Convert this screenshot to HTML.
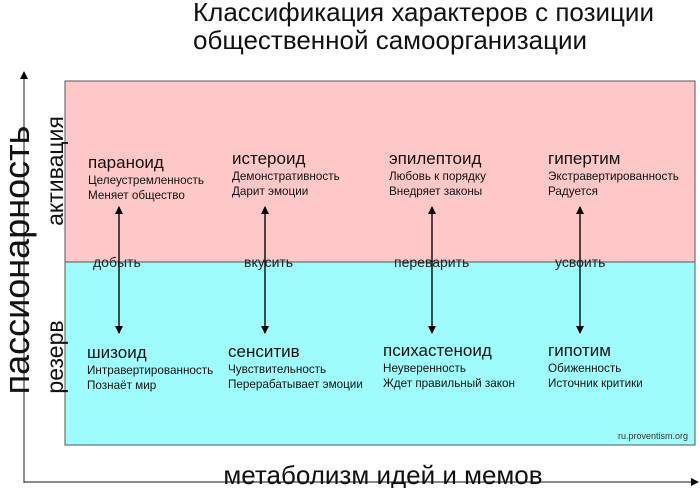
<!DOCTYPE html>
<html><head><meta charset="utf-8"><style>
html,body{margin:0;padding:0;background:#fff;}
svg{display:block;font-family:"Liberation Sans","DejaVu Sans",sans-serif;}
</style></head><body>
<svg width="700" height="488" viewBox="0 0 700 488" xmlns="http://www.w3.org/2000/svg">
<defs>
<marker id="ah" markerWidth="8" markerHeight="8" refX="7" refY="4" orient="auto" markerUnits="userSpaceOnUse">
<path d="M0,0 L8,4 L0,8 z" fill="#000"/></marker>
</defs>
<text x="193" y="21" font-size="26" fill="#111">Классификация характеров с позиции</text>
<text x="193" y="49" font-size="26" fill="#111">общественной самоорганизации</text>

<rect x="65" y="81" width="630" height="181" fill="#ffc8c8" stroke="#555" stroke-width="1"/>
<rect x="65" y="262" width="630" height="183" fill="#9ffcfc" stroke="#555" stroke-width="1"/>

<line x1="24" y1="483" x2="24" y2="72" stroke="#444" stroke-width="1.2" marker-end="url(#ah)"/>
<line x1="24" y1="482" x2="698" y2="482" stroke="#444" stroke-width="1.2" marker-end="url(#ah)"/>

<text transform="translate(29,260) rotate(-90)" text-anchor="middle" font-size="36" fill="#111">пассионарность</text>
<text transform="translate(63,171) rotate(-90)" text-anchor="middle" font-size="23" fill="#111">активация</text>
<text transform="translate(63,357) rotate(-90)" text-anchor="middle" font-size="23" fill="#111">резерв</text>
<text x="383" y="484" text-anchor="middle" font-size="26" fill="#111">метаболизм идей и мемов</text>

<g stroke="#000" stroke-width="1.2">
<line x1="119" y1="333" x2="119" y2="207" marker-end="url(#ah)"/>
<line x1="265" y1="333" x2="265" y2="207" marker-end="url(#ah)"/>
<line x1="432" y1="333" x2="432" y2="207" marker-end="url(#ah)"/>
<line x1="580" y1="333" x2="580" y2="207" marker-end="url(#ah)"/>
<line x1="119" y1="207" x2="119" y2="333" marker-end="url(#ah)"/>
<line x1="265" y1="207" x2="265" y2="333" marker-end="url(#ah)"/>
<line x1="432" y1="207" x2="432" y2="333" marker-end="url(#ah)"/>
<line x1="580" y1="207" x2="580" y2="333" marker-end="url(#ah)"/>
</g>

<g font-size="14" fill="#222">
<text x="93" y="267">добыть</text>
<text x="244" y="267">вкусить</text>
<text x="394" y="267">переварить</text>
<text x="555" y="267">усвоить</text>
</g>

<g fill="#111">
<text x="88" y="168" font-size="17">параноид</text>
<text x="88" y="184" font-size="11.7">Целеустремленность</text>
<text x="88" y="199" font-size="11.7">Меняет общество</text>
<text x="232" y="164" font-size="17">истероид</text>
<text x="232" y="180" font-size="11.7">Демонстративность</text>
<text x="232" y="195" font-size="11.7">Дарит эмоции</text>
<text x="389" y="164" font-size="17">эпилептоид</text>
<text x="389" y="180" font-size="11.7">Любовь к порядку</text>
<text x="389" y="195" font-size="11.7">Внедряет законы</text>
<text x="548" y="164" font-size="17">гипертим</text>
<text x="548" y="180" font-size="11.7">Экстравертированность</text>
<text x="548" y="195" font-size="11.7">Радуется</text>

<text x="87" y="358" font-size="17">шизоид</text>
<text x="87" y="374" font-size="11.7">Интравертированность</text>
<text x="87" y="389" font-size="11.7">Познаёт мир</text>
<text x="228" y="357" font-size="17">сенситив</text>
<text x="228" y="373" font-size="11.7">Чувствительность</text>
<text x="228" y="388" font-size="11.7">Перерабатывает эмоции</text>
<text x="383" y="356" font-size="17">психастеноид</text>
<text x="383" y="372" font-size="11.7">Неуверенность</text>
<text x="383" y="387" font-size="11.7">Ждет правильный закон</text>
<text x="548" y="356" font-size="17">гипотим</text>
<text x="548" y="372" font-size="11.7">Обиженность</text>
<text x="548" y="387" font-size="11.7">Источник критики</text>
<text x="688" y="439" font-size="9" text-anchor="end" fill="#333">ru.proventism.org</text>
</g>
</svg>
</body></html>
